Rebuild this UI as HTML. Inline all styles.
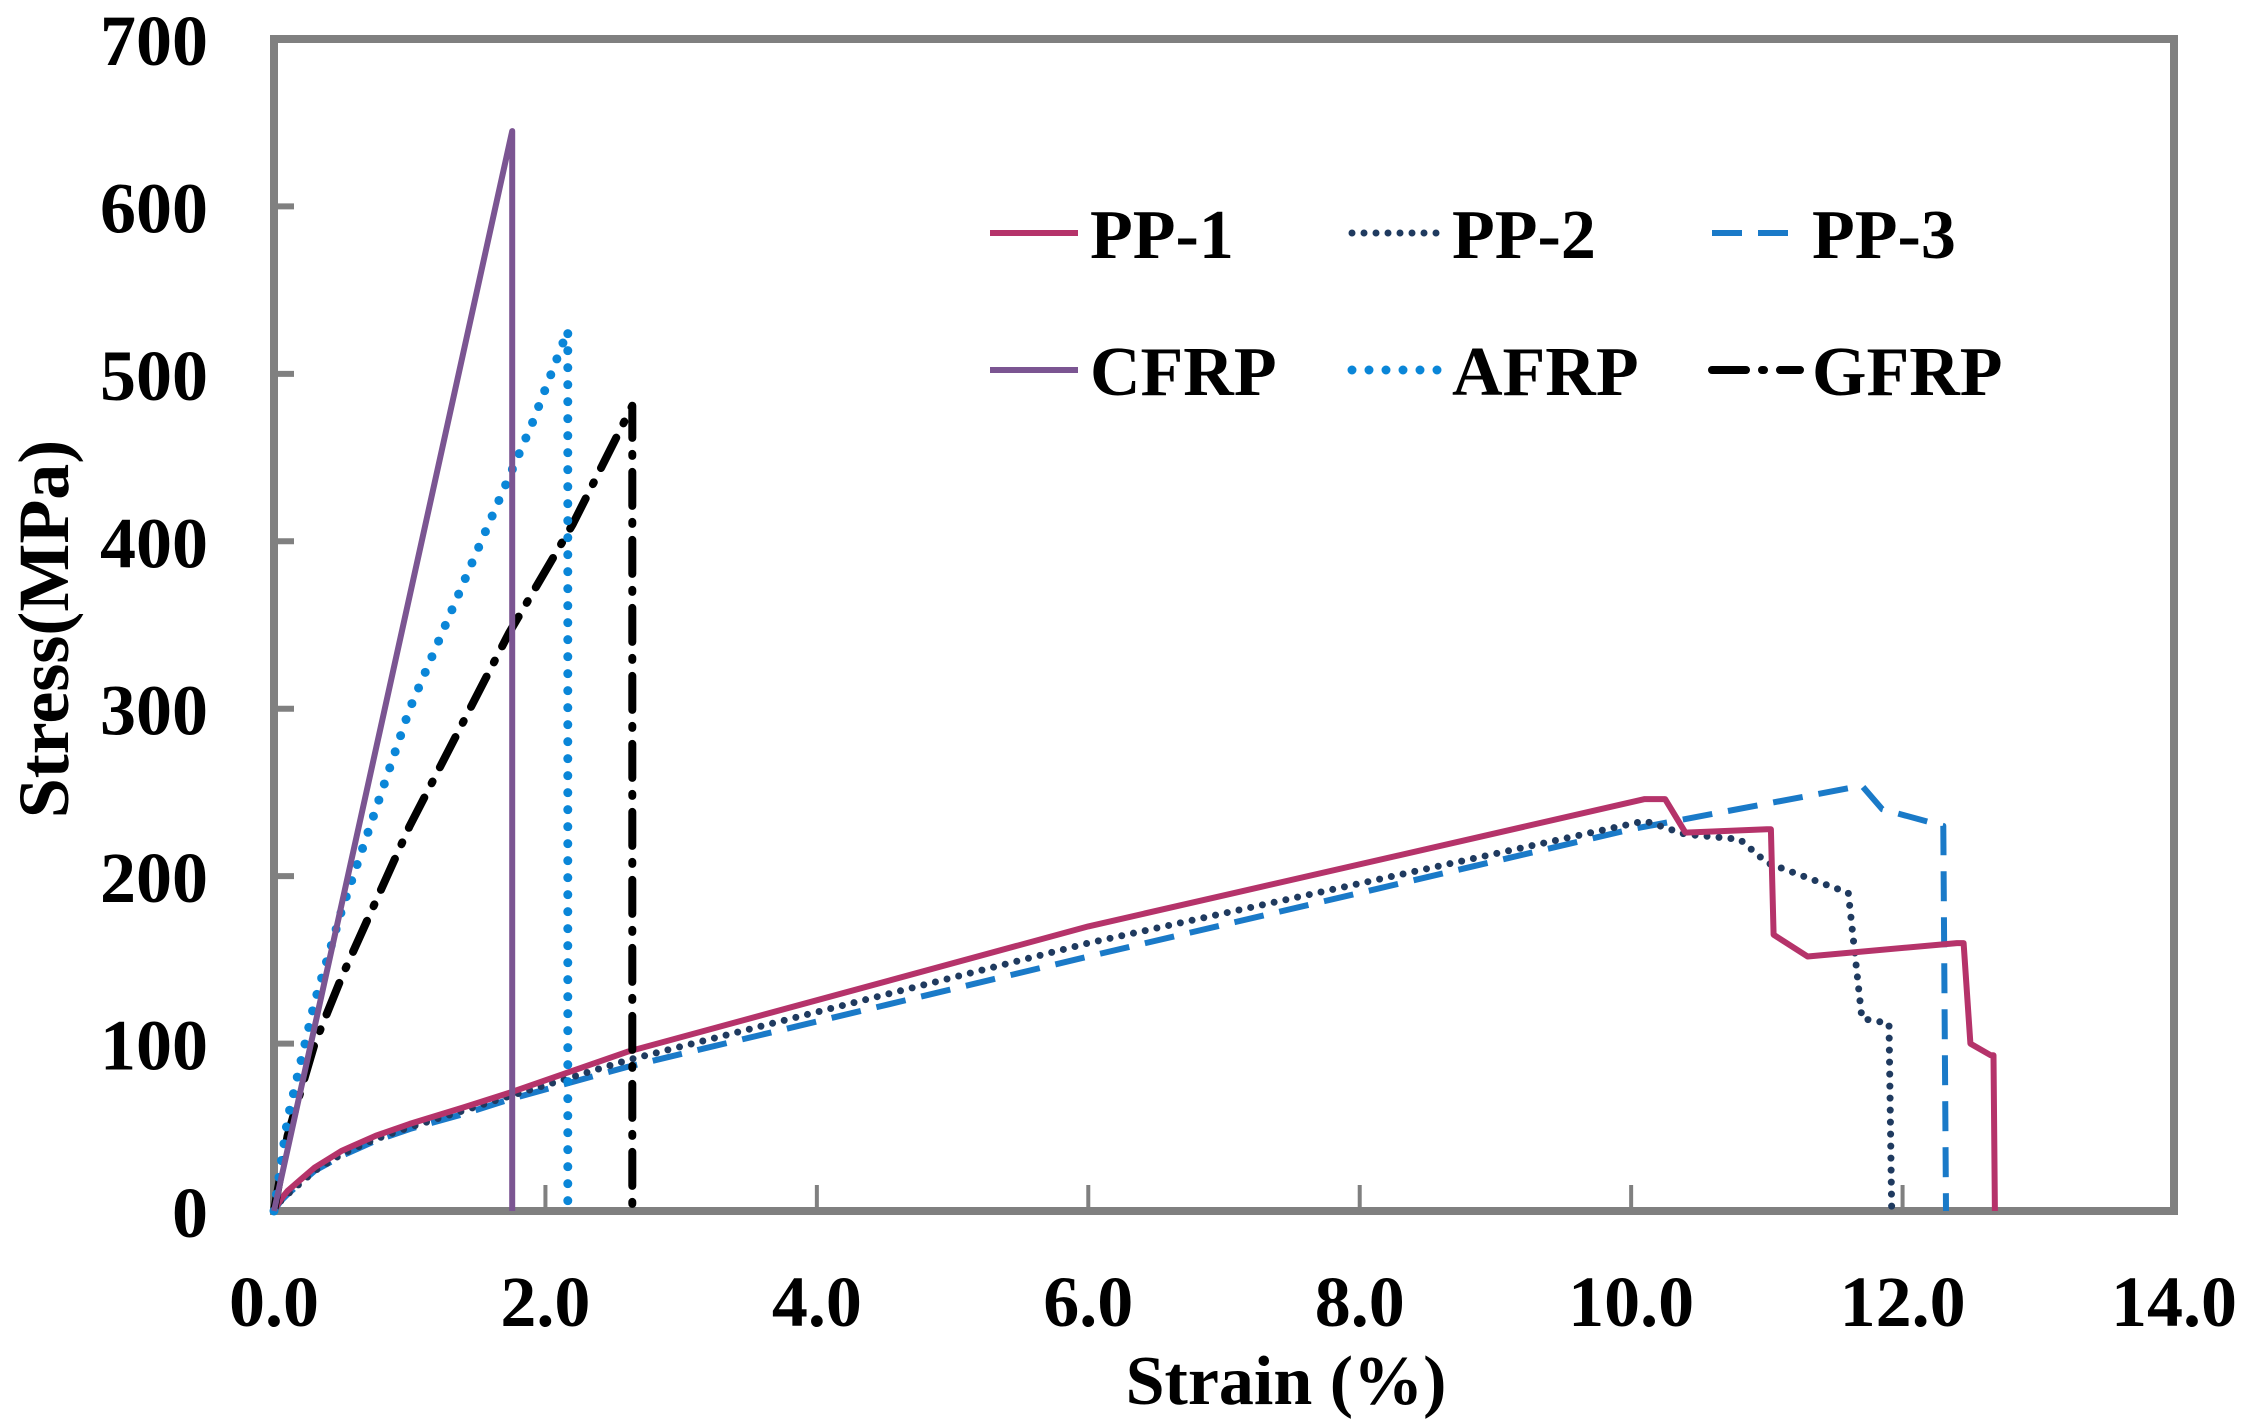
<!DOCTYPE html>
<html><head><meta charset="utf-8"><style>
html,body{margin:0;padding:0;background:#fff;}
svg{display:block;font-family:"Liberation Serif",serif;font-weight:bold;}
</style></head><body>
<svg id="chart" width="2241" height="1426" viewBox="0 0 2241 1426" xmlns="http://www.w3.org/2000/svg">
<g id="plot"></g>
</svg>
<script>
const xTicks=[0,2,4,6,8,10,12,14];
const yTicks=[0,100,200,300,400,500,600,700];
const pp1X=[0,0.05,0.1,0.2,0.3,0.5,0.75,1.0,1.4,1.75,2.6,6,10.1,10.25,10.4,11.0,11.03,11.05,11.3,12.4,12.45,12.5,12.65,12.67,12.68];
const pp1Y=[0,7,12,19,26,36,45,52,62,71,95,170,246,246,226,228,228,165,152,160,160,100,93,93,0];
const pp2X=[0,0.05,0.1,0.2,0.3,0.5,0.75,1.0,1.4,1.75,2.6,6,10.1,10.4,10.8,11.0,11.6,11.7,11.9,11.92];
const pp2Y=[0,6,10,17,24,34,43,50,60,69,90,160,233,225,222,208,190,115,112,0];
const pp3X=[0,0.05,0.1,0.2,0.3,0.5,0.75,1.0,1.4,1.75,2.6,6,10.0,11.7,11.85,12.3,12.32];
const pp3Y=[0,6,10,17,24,33,42,49,58,67,86,152,228,254,240,230,0];
const cfrpX=[0,1.755,1.755];
const cfrpY=[0,645,0];
const afrpX=[0,0.1,0.3,0.5,1.0,1.5,1.9,2.165,2.165];
const afrpY=[0,55,125,180,300,395,470,526,0];
const gfrpX=[0,0.1,0.3,0.5,1.0,1.73,2.2,2.64,2.64];
const gfrpY=[0,45,100,140,230,345,410,481,0];

const L=274,R=2174,T=39,B=1211;
const sx=v=>L+v/14*(R-L);
const sy=v=>B-v/700*(B-T);
const NS="http://www.w3.org/2000/svg";
const svg=document.getElementById('chart');
function mk(tag,attrs,parent){const e=document.createElementNS(NS,tag);for(const k in attrs)e.setAttribute(k,attrs[k]);(parent||svg).appendChild(e);return e;}

const frame=mk('rect',{x:L,y:T,width:R-L,height:B-T,fill:'none',stroke:'#808080','stroke-width':8});



yTicks.forEach(v=>{
  const t=mk('line',{x1:L,x2:L+20,y1:sy(v),y2:sy(v),stroke:'#808080','stroke-width':6});
  
  
  const lb=mk('text',{x:208,y:sy(v)+26,'text-anchor':'end','font-size':72,fill:'#000'});
  lb.textContent=String(v);
  
  
});
xTicks.forEach(v=>{
  const t=mk('line',{x1:sx(v),x2:sx(v),y1:B,y2:B-26,stroke:'#808080','stroke-width':4});
  
  
  const lb=mk('text',{x:sx(v),y:1326,'text-anchor':'middle','font-size':72,fill:'#000'});
  lb.textContent=v.toFixed(1);
  
  
});
const xt=mk('text',{x:1286,y:1404,'text-anchor':'middle','font-size':70,fill:'#000'});
xt.textContent='Strain (%)';


const yt=mk('text',{x:0,y:0,'text-anchor':'middle','font-size':72,fill:'#000',transform:'translate(68,629) rotate(-90)'});
yt.textContent='Stress(MPa)';



const styles={
 pp1:{stroke:'#b5336a',w:6,dash:null,cap:'butt'},
 pp2:{stroke:'#1f3a5f',w:7,dash:'0 12',cap:'round'},
 pp3:{stroke:'#1a7ac8',w:6,dash:'30 16',cap:'butt'},
 cfrp:{stroke:'#7b5592',w:6,dash:null,cap:'butt'},
 afrp:{stroke:'#0a86d8',w:9,dash:'0 17',cap:'round'},
 gfrp:{stroke:'#000',w:8,dash:'34 16 2 16',cap:'round'}
};
function series(xs,ys,st,name){
  const d=xs.map((x,i)=>(i?'L':'M')+sx(x).toFixed(1)+' '+sy(ys[i]).toFixed(1)).join(' ');
  const p=mk('path',{d:d,fill:'none',stroke:st.stroke,'stroke-width':st.w,'stroke-linecap':st.cap,'stroke-linejoin':'round'});
  if(st.dash)p.setAttribute('stroke-dasharray',st.dash);
  
  
}
series(pp3X,pp3Y,styles.pp3,'series-pp-3');
series(pp2X,pp2Y,styles.pp2,'series-pp-2');
series(pp1X,pp1Y,styles.pp1,'series-pp-1');
series(gfrpX,gfrpY,styles.gfrp,'series-gfrp');
series(afrpX,afrpY,styles.afrp,'series-afrp');
series(cfrpX,cfrpY,styles.cfrp,'series-cfrp');

const legend=[
 ['PP-1','pp1',986,233],['PP-2','pp2',1348,233],['PP-3','pp3',1708,233],
 ['CFRP','cfrp',986,370],['AFRP','afrp',1348,370],['GFRP','gfrp',1708,370]
];
legend.forEach(([lab,key,x,y])=>{
  const st=styles[key];
  const g=mk('g',{});
  
  
  const ln=mk('line',{x1:x+4,x2:x+92,y1:y,y2:y,stroke:st.stroke,'stroke-width':st.w,'stroke-linecap':st.cap},g);
  if(st.dash)ln.setAttribute('stroke-dasharray',st.dash);
  const tx=mk('text',{x:x+104,y:y+25,'font-size':70,fill:'#000'},g);
  tx.textContent=lab;
});
</script>
</body></html>
